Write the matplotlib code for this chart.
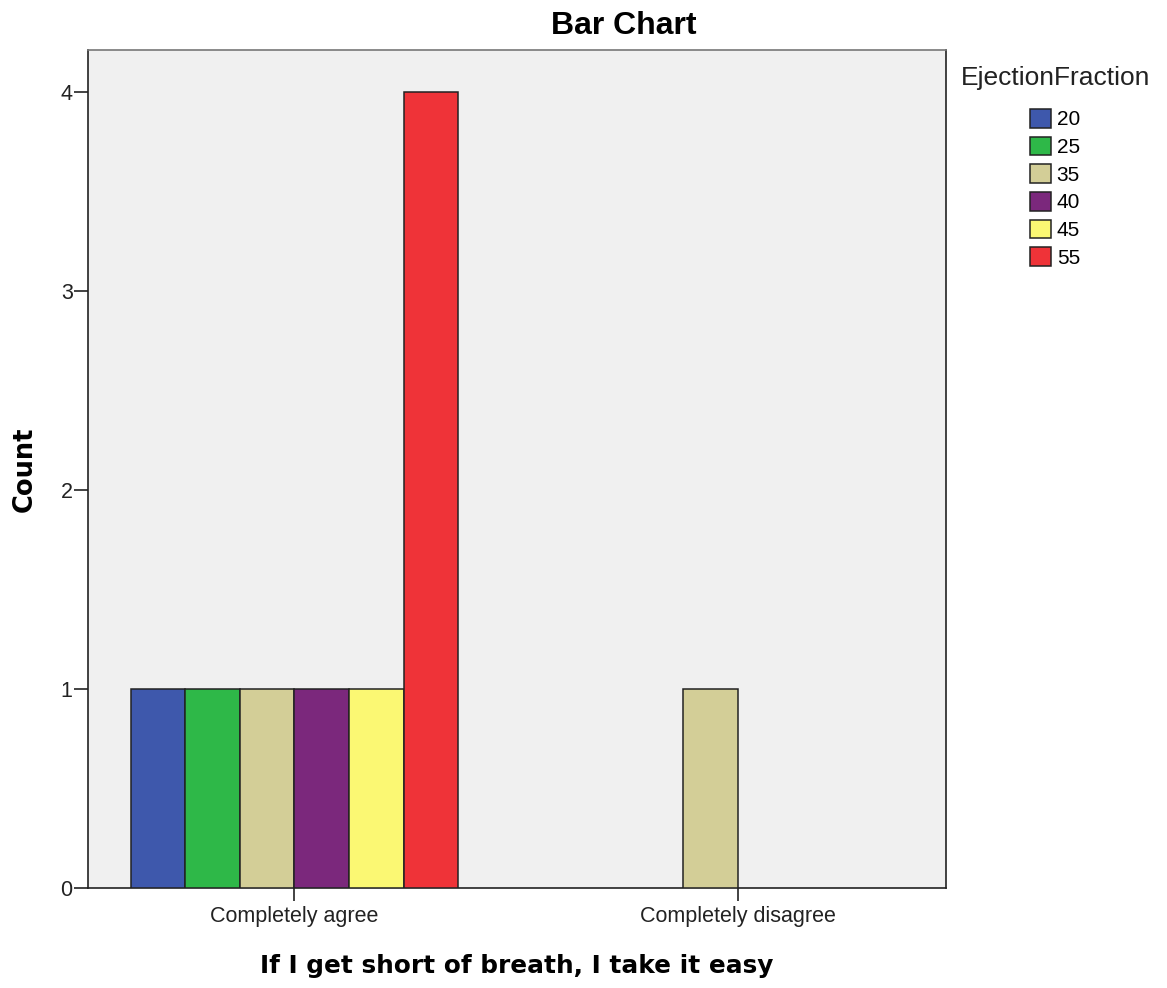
import matplotlib
matplotlib.use("Agg")
import matplotlib.pyplot as plt
import numpy as np

# Data
categories = ["Completely agree", "Completely disagree"]
fractions = ["20", "25", "35", "40", "45", "55"]
ef_20 = [1, 0]
ef_25 = [1, 0]
ef_35 = [1, 1]
ef_40 = [1, 0]
ef_45 = [1, 0]
ef_55 = [4, 0]
colors = ["#3e58ac", "#2eb848", "#d3ce97", "#7b287c", "#fbf873", "#ef3338"]

series = [ef_20, ef_25, ef_35, ef_40, ef_45, ef_55]

W, H = 1167, 988
fig = plt.figure(figsize=(W / 100, H / 100), dpi=100)
ax = fig.add_axes([88 / W, 100.5 / H, 858 / W, 837.5 / H])
ax.set_facecolor("#f0f0f0")

x = np.arange(len(categories))
width = 0.1229
handles = []
for i, (vals, col, lab) in enumerate(zip(series, colors, fractions)):
    vals = np.array(vals, dtype=float)
    keep = vals > 0
    bars = ax.bar(x[keep] + (i - 2.5) * width, vals[keep], width,
                  color=col, edgecolor="#222222", linewidth=1.1, label=lab, zorder=3)
    handles.append(bars)

ax.set_xlim(-0.4656, 1.469)
ax.set_ylim(0, 4.21)
ax.set_yticks([0, 1, 2, 3, 4])
ax.set_xticks(x)
ax.set_xticklabels(categories)

for s in ax.spines.values():
    s.set_color("#222222")
    s.set_linewidth(1.2)
ax.spines["top"].set_color("#777777")

ax.tick_params(axis="y", length=10, width=1.2, pad=1, labelsize=15.5, colors="#222222")
ax.tick_params(axis="x", length=9.5, width=1.2, pad=4, labelsize=15.5, colors="#222222")
for t in ax.get_xticklabels() + ax.get_yticklabels():
    t.set_fontfamily("Liberation Sans")

ax.set_xlabel("If I get short of breath, I take it easy", fontsize=17.8,
              fontweight="bold", fontfamily="DejaVu Sans")
ax.xaxis.set_label_coords(0.5, (887.5 - 966) / 837.5)
ax.xaxis.label.set_va("center")
ax.set_ylabel("Count", fontsize=18.5, fontweight="bold", fontfamily="DejaVu Sans")
ax.yaxis.set_label_coords((25 - 88) / 858, 0.5)
ax.yaxis.label.set_va("center")

fig.text(624 / W, 1 - 26 / H, "Bar Chart", ha="center", va="center",
         fontsize=23, fontweight="bold", fontfamily="Liberation Sans")

# legend
fig.text(1056 / W, 1 - 78 / H, "EjectionFraction", ha="center", va="center",
         fontsize=19, fontfamily="Liberation Sans", color="#222222")
leg = fig.legend(handles=handles, loc="upper left", bbox_to_anchor=(1030 / W, 1 - 109 / H),
                 frameon=False, borderpad=0, borderaxespad=0, handlelength=1.0,
                 handleheight=1.0, handletextpad=0.28, labelspacing=0.345,
                 prop={"family": "Liberation Sans", "size": 15})

fig.savefig("out.png", dpi=100)
